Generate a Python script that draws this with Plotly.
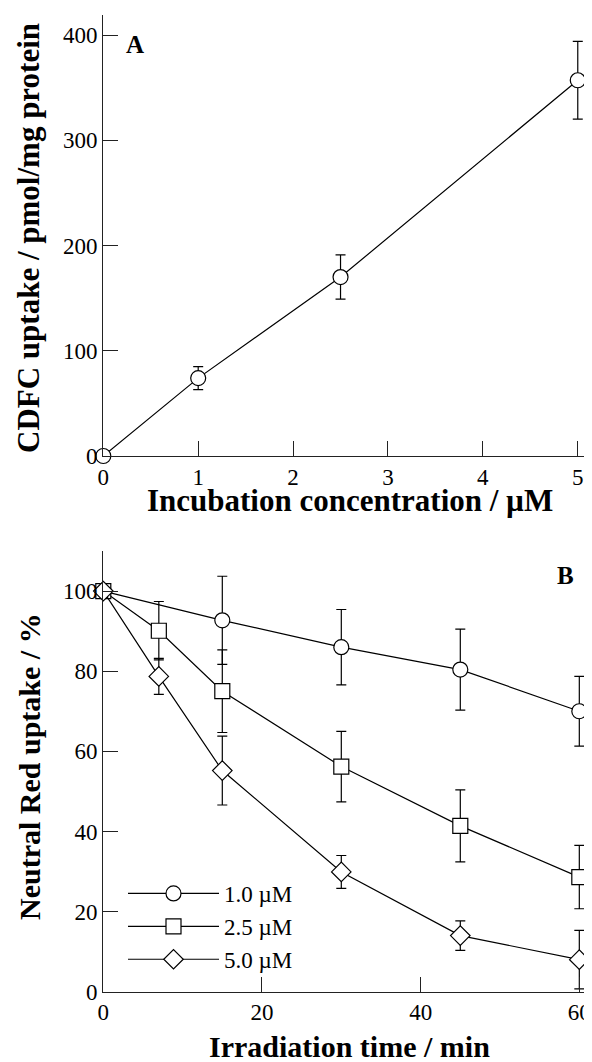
import plotly.graph_objects as go

# ---- Panel A data ----
conc = [0, 1, 2.5, 5]
cdfc_uptake = [0, 74, 170, 357]
cdfc_err = [0, 11, 21, 37]

# ---- Panel B data ----
time_min = [0, 7, 15, 30, 45, 60]
series_names = ["1.0 \u00b5M", "2.5 \u00b5M", "5.0 \u00b5M"]
time_c1 = [0, 15, 30, 45, 60]
nr_c1 = [100, 92.7, 86.0, 80.4, 70.0]
nr_c1_err = [0, 11.0, 9.4, 10.1, 8.7]
nr_c25 = [100, 90.1, 75.0, 56.2, 41.4, 28.6]
nr_c25_err = [0, 7.3, 10.3, 8.8, 9.0, 7.9]
nr_c5 = [100, 78.7, 55.2, 29.9, 14.0, 8.0]
nr_c5_err = [0, 4.5, 8.6, 4.1, 3.7, 7.3]

xticks_a = [0, 1, 2, 3, 4, 5]
yticks_a = [0, 100, 200, 300, 400]
xticks_b = [0, 20, 40, 60]
yticks_b = [0, 20, 40, 60, 80, 100]

# The page body has an 8px margin, so the figure is drawn 8px in from the window corner.
OFF = 8
W, H = 592 - OFF, 1062 - OFF
FONT = "Liberation Serif, Times New Roman, serif"

def px(x):
    return (x - OFF) / W

def py(y):
    return 1 - (y - OFF) / H

fig = go.Figure()

marker_common = dict(size=15, color="white", line=dict(color="black", width=1.2))
err_common = dict(type="data", color="black", thickness=1.2, width=5)

fig.add_trace(go.Scatter(
    x=conc, y=cdfc_uptake, mode="lines+markers",
    error_y=dict(array=cdfc_err, **err_common),
    marker=dict(symbol="circle", **marker_common),
    line=dict(color="black", width=1.2),
    cliponaxis=False, showlegend=False, xaxis="x", yaxis="y"))

for name, xs, ys, es, sym in [
    (series_names[0], time_c1, nr_c1, nr_c1_err, "circle"),
    (series_names[1], time_min, nr_c25, nr_c25_err, "square"),
    (series_names[2], time_min, nr_c5, nr_c5_err, "diamond"),
]:
    fig.add_trace(go.Scatter(
        x=xs, y=ys, mode="lines+markers", name=name,
        error_y=dict(array=es, **err_common),
        marker=dict(symbol=sym, **marker_common),
        line=dict(color="black", width=1.2),
        cliponaxis=False, showlegend=True, xaxis="x2", yaxis="y2"))

tickfont = dict(family=FONT, size=23, color="black")
ax_common = dict(ticks="inside", ticklen=15, tickwidth=1.2, tickcolor="#222",
                 showgrid=False, zeroline=False, tickfont=tickfont, automargin=False)

xdom = [px(103.3), 1.0]
ydom_a = [py(456), py(15)]
ydom_b = [py(991.7), py(551)]
xr_a = [0, 5.15]
yr_a = [0, 419]
xr_b = [0, 61.6]
yr_b = [0, 110]

fig.update_layout(
    template="none",
    width=W, height=H, margin=dict(l=0, r=0, t=0, b=0, autoexpand=False),
    paper_bgcolor="white", plot_bgcolor="white",
    font=dict(family=FONT, color="black"),
    # panel A
    xaxis=dict(domain=xdom, anchor="y", range=xr_a, tickvals=xticks_a,
               showline=True, linecolor="#222", linewidth=1.2, **ax_common),
    yaxis=dict(domain=ydom_a, anchor="x", range=yr_a, tickvals=yticks_a,
               showline=True, linecolor="#222", linewidth=1.2, **ax_common),
    xaxis3=dict(domain=xdom, anchor="y", overlaying="x", side="top", range=xr_a,
                tickvals=xticks_a, showticklabels=False, showline=True,
                linecolor="#222", linewidth=1.2, **ax_common),
    yaxis3=dict(domain=ydom_a, anchor="x", overlaying="y", side="right", range=yr_a,
                tickvals=yticks_a, showticklabels=False, showline=False, **ax_common),
    # panel B
    xaxis2=dict(domain=xdom, anchor="y2", range=xr_b, tickvals=xticks_b,
                showline=True, linecolor="#222", linewidth=1.2, **ax_common),
    yaxis2=dict(domain=ydom_b, anchor="x2", range=yr_b, tickvals=yticks_b,
                showline=True, linecolor="#222", linewidth=1.2, **ax_common),
    xaxis4=dict(domain=xdom, anchor="y2", overlaying="x2", side="top", range=xr_b,
                tickvals=xticks_b, showticklabels=False, showline=True,
                linecolor="#222", linewidth=1.2, **ax_common),
    yaxis4=dict(domain=ydom_b, anchor="x2", overlaying="y2", side="right", range=yr_b,
                tickvals=yticks_b, showticklabels=False, showline=False, **ax_common),
    legend=dict(x=px(123), y=py(872), xanchor="left", yanchor="top",
                bgcolor="rgba(0,0,0,0)", borderwidth=0, itemwidth=91,
                font=dict(family=FONT, size=23, color="black"),
                tracegroupgap=0),
)

annotations = [
    dict(text="<b>CDFC uptake / pmol/mg protein</b>", x=px(28), y=py(238), textangle=-90,
         font=dict(family=FONT, size=31, color="black")),
    dict(text="<b>Incubation concentration / \u00b5M</b>", x=px(350), y=py(500),
         font=dict(family=FONT, size=31, color="black")),
    dict(text="<b>Neutral Red uptake / %</b>", x=px(29), y=py(767), textangle=-90,
         font=dict(family=FONT, size=30, color="black")),
    dict(text="<b>Irradiation time / min</b>", x=px(349.5), y=py(1046),
         font=dict(family=FONT, size=30, color="black")),
    dict(text="<b>A</b>", x=px(135), y=py(44), font=dict(family=FONT, size=25, color="black")),
    dict(text="<b>B</b>", x=px(565), y=py(575), font=dict(family=FONT, size=25, color="black")),
]
for a in annotations:
    a.update(xref="paper", yref="paper", showarrow=False, xanchor="center", yanchor="middle")
fig.update_layout(annotations=annotations)

fig.write_html("out.html")
